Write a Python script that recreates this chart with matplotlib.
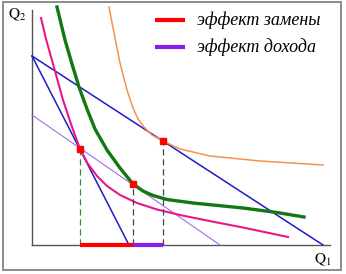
import numpy as np
from matplotlib import pyplot as plt
from matplotlib.patches import Rectangle

# ---- data (Q1, Q2 units) ----
pink_q1 = [9, 14, 23, 31, 40, 48, 56, 65, 75, 88, 105, 125, 148, 180, 211, 256]
pink_q2 = [227, 206, 174, 145, 118, 96, 81, 69, 59, 50, 42, 35.5, 30, 23.5, 17.5, 8]

green_q1 = [25, 33, 40, 47, 55, 63, 75, 88, 101, 111, 121, 135, 161, 211, 245, 272]
green_q2 = [238, 205, 181, 158, 136, 116, 95, 77, 61, 54, 49.5, 45.5, 42, 37, 32.5, 28]

orange_q1 = [77, 82, 88, 95, 101, 106, 112, 120, 131, 148, 178, 228, 291]
orange_q2 = [238, 212, 182, 155, 137, 126, 118, 110, 104, 96, 89, 84, 80]

budget_steep = ([0, 97], [189, 0])
budget_flat = ([0, 291], [189, 0])
budget_comp = ([0, 188], [130, 0])

eq_q1 = [48, 101, 131]
eq_q2 = [96, 61, 104]

legend_labels = ['эффект замены', 'эффект дохода']

fig = plt.figure(figsize=(3.46, 2.74), dpi=100)
ax = fig.add_axes([0, 0, 1, 1])
ax.set_xlim(-32, 314)
ax.set_ylim(-29, 245)
ax.axis('off')

# frame round the picture
fig.patches.append(Rectangle((3/346, 4/274), 338/346, 268/274, transform=fig.transFigure,
                             fill=False, edgecolor='#8c8c8c', linewidth=1.4))

# axes
ax.plot([0, 0], [0, 235], color='#555555', lw=1.0)
ax.plot([0, 298], [0, 0], color='#555555', lw=1.0)

# budget lines
ax.plot(*budget_steep, color='#1c1cc8', lw=1.1)
ax.plot(*budget_flat, color='#1c1cc8', lw=1.1)
ax.plot(*budget_comp, color='#a070e0', lw=0.8)

# indifference curves
ax.plot(orange_q1, orange_q2, color='#f7924e', lw=1.1, solid_joinstyle='round')
ax.plot(pink_q1, pink_q2, color='#e8188c', lw=1.5, solid_joinstyle='round')
ax.plot(green_q1, green_q2, color='#127812', lw=2.4, solid_joinstyle='round')

# drop lines
ax.plot([eq_q1[0]] * 2, [0, eq_q2[0]], color='#3a8a3a', lw=0.9, dashes=(5, 3))
for x, y in zip(eq_q1[1:], eq_q2[1:]):
    ax.plot([x, x], [0, y], color='#444444', lw=0.9, dashes=(5, 3))

# effects on Q1 axis
ax.plot([eq_q1[0], eq_q1[1]], [0, 0], color='#ff0000', lw=3, solid_capstyle='butt')
ax.plot([eq_q1[1], eq_q1[2]], [0, 0], color='#8a1ee8', lw=3, solid_capstyle='butt')

ax.plot(eq_q1, eq_q2, 's', color='#ff0000', ms=4.5, zorder=5)

# legend
ax.plot([123, 153], [225, 225], color='#ff0000', lw=3, solid_capstyle='butt')
ax.plot([123, 153], [198, 198], color='#8a1ee8', lw=3, solid_capstyle='butt')
ax.text(165, 225, legend_labels[0], family='Liberation Serif', style='italic',
        fontsize=13, va='center', ha='left')
ax.text(165, 198, legend_labels[1], family='Liberation Serif', style='italic',
        fontsize=13, va='center', ha='left')

plt.rcParams['mathtext.fontset'] = 'stix'
ax.text(-24, 230, r'$\mathrm{Q}_{2}$', fontsize=11, va='center', ha='left')
ax.text(282, -15, r'$\mathrm{Q}_{1}$', fontsize=11, va='center', ha='left')

fig.savefig('out.png', dpi=100)
